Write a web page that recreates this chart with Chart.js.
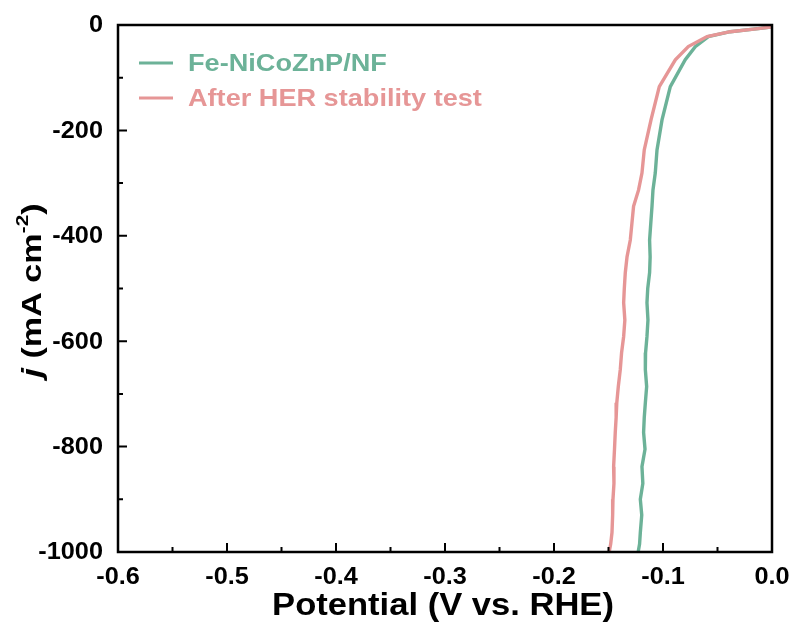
<!DOCTYPE html>
<html>
<head>
<meta charset="utf-8">
<script src="https://cdn.jsdelivr.net/npm/chart.js@4/dist/chart.umd.min.js"></script>
<style>
  html, body { margin: 0; padding: 0; background: #fff; }
  #wrap { width: 793px; height: 623px; }
</style>
</head>
<body>
<div id="wrap"><canvas id="her"></canvas></div>
<script>
// values (V vs. RHE, mA cm-2)
var seriesNames = ['Fe-NiCoZnP/NF', 'After HER stability test'];
var seriesColors = ['rgb(108,178,152)', 'rgb(230,150,150)'];

var freshV = [0.0, -0.0016, -0.0107, -0.0383, -0.0584, -0.0704, -0.0796, -0.0933, -0.1009, -0.1055, -0.1071, -0.1092, -0.1101,
    -0.1112, -0.1123, -0.1118, -0.1123, -0.1140, -0.1147, -0.1138, -0.1147, -0.1160, -0.1162, -0.1150, -0.1162, -0.1172,
    -0.1178, -0.1165, -0.1193, -0.1185, -0.1208, -0.1195, -0.1208, -0.1215, -0.1227];
var freshJ = [-2, -3.8, -6.3, -12.7, -22, -41, -66, -117, -180, -237, -281, -313, -344,
    -376, -408, -440, -470, -500, -527, -560, -591, -622, -654, -686, -717, -745,
    -773, -805, -838, -870, -900, -930, -963, -985, -999];

var afterV = [0.0, -0.0016, -0.0107, -0.0383, -0.0596, -0.0768, -0.0887, -0.1034, -0.1110, -0.1172, -0.1193, -0.1224, -0.1270,
    -0.1285, -0.1300, -0.1330, -0.1346, -0.1355, -0.1361, -0.1350, -0.1361, -0.1380, -0.1392, -0.1410, -0.1424, -0.1430,
    -0.1438, -0.1445, -0.1453, -0.1450, -0.1459, -0.1462, -0.1468, -0.1480, -0.1493];
var afterJ = [-2, -3.8, -6.3, -12.7, -22, -41, -66, -117, -180, -237, -281, -313, -344,
    -376, -408, -440, -470, -500, -527, -560, -591, -622, -654, -686, -717, -745,
    -773, -805, -838, -870, -900, -930, -963, -985, -999];

var xTicks = [-0.6, -0.5, -0.4, -0.3, -0.2, -0.1, 0.0];
var yTicks = [0, -200, -400, -600, -800, -1000];

function toPoints(xs, ys) {
    var pts = [];
    for (var i = 0; i < xs.length; i++) pts.push({x: xs[i], y: ys[i]});
    return pts;
}

var fam = '"Liberation Sans", Arial, sans-serif';

// text drawn a bit wider than the font, like the original figure
function wideText(c, txt, x, y, font, sx, align) {
    c.save();
    c.font = font;
    var w = c.measureText(txt).width * sx;
    var x0 = align === 'right' ? x - w : (align === 'center' ? x - w / 2 : x);
    c.translate(x0, y);
    c.scale(sx, 1);
    c.textAlign = 'left';
    c.fillText(txt, 0, 0);
    c.restore();
}

// frame, inward ticks, labels, legend and titles drawn from the scales
var framePlugin = {
    id: 'frame',
    afterDraw: function (chart) {
        var c = chart.ctx, a = chart.chartArea;
        var xs = chart.scales.x, ys = chart.scales.y;
        c.save();
        c.strokeStyle = '#000';
        c.lineWidth = 2.5;
        c.strokeRect(a.left, a.top, a.right - a.left, a.bottom - a.top);
        c.lineWidth = 2;
        c.beginPath();
        for (var v = -0.6; v <= 0.0001; v += 0.05) {
            var px = xs.getPixelForValue(v);
            var major = Math.abs(Math.round(v * 10) - v * 10) < 0.01;
            c.moveTo(px, a.bottom);
            c.lineTo(px, a.bottom - (major ? 9 : 5));
        }
        for (var j = 0; j >= -1000; j -= 100) {
            var py = ys.getPixelForValue(j);
            c.moveTo(a.left, py);
            c.lineTo(a.left + ((j % 200 === 0) ? 9 : 5), py);
        }
        c.stroke();

        // tick labels
        c.fillStyle = '#000';
        c.textBaseline = 'middle';
        var tf = 'bold 23px ' + fam;
        xTicks.forEach(function (t) {
            wideText(c, t.toFixed(1), xs.getPixelForValue(t), a.bottom + 26, tf, 1.1, 'center');
        });
        yTicks.forEach(function (t) {
            wideText(c, String(t), a.left - 15, ys.getPixelForValue(t) + 1, tf, 1.1, 'right');
        });

        // x title
        wideText(c, 'Potential (V vs. RHE)', (a.left + a.right) / 2 - 2, 606, 'bold 32px ' + fam, 1.08, 'center');

        // legend
        var ly = [63, 98];
        for (var k = 0; k < seriesNames.length; k++) {
            c.strokeStyle = seriesColors[k];
            c.fillStyle = seriesColors[k];
            c.lineWidth = 3;
            c.beginPath();
            c.moveTo(139, ly[k]);
            c.lineTo(173, ly[k]);
            c.stroke();
            wideText(c, seriesNames[k], 188, ly[k] + 1, 'bold 24px ' + fam, 1.13, 'left');
        }

        // y axis title with italic j and superscript
        c.translate(33, (a.top + a.bottom) / 2 + 2);
        c.rotate(-Math.PI / 2);
        c.fillStyle = '#000';
        var sx = 1.22;
        var parts = [['j', 'italic bold 28px ' + fam, 0], [' (mA cm', 'bold 28px ' + fam, 0],
            ['-2', 'bold 17px ' + fam, -10], [')', 'bold 28px ' + fam, 0]];
        var total = 0;
        parts.forEach(function (p) { c.font = p[1]; total += c.measureText(p[0]).width * sx; });
        var x0 = -total / 2;
        parts.forEach(function (p) {
            c.font = p[1];
            wideText(c, p[0], x0, p[2], p[1], sx, 'left');
            x0 += c.measureText(p[0]).width * sx;
        });
        c.restore();
    }
};

var data = {
    datasets: [{
        label: seriesNames[0],
        data: toPoints(freshV, freshJ),
        borderColor: seriesColors[0],
        backgroundColor: seriesColors[0],
        borderWidth: 3.4,
        pointRadius: 0,
        order: 2
    }, {
        label: seriesNames[1],
        data: toPoints(afterV, afterJ),
        borderColor: seriesColors[1],
        backgroundColor: seriesColors[1],
        borderWidth: 3.4,
        pointRadius: 0,
        order: 1
    }]
};

var option = {
    responsive: true,
    maintainAspectRatio: false,
    animation: false,
    layout: { padding: { left: 0, top: 25, right: 21, bottom: 0 } },
    scales: {
        x: {
            type: 'linear',
            min: -0.6,
            max: 0.0,
            afterFit: function (s) { s.height = 71; },
            grid: { display: false },
            border: { display: false },
            ticks: { display: false }
        },
        y: {
            min: -1000,
            max: 0,
            afterFit: function (s) { s.width = 118; },
            grid: { display: false },
            border: { display: false },
            ticks: { display: false }
        }
    },
    plugins: {
        legend: { display: false },
        tooltip: { enabled: false }
    }
};

var graphique = new Chart(document.getElementById('her'), {
    type: 'line', data: data, options: option, plugins: [framePlugin]
});
</script>
</body>
</html>
